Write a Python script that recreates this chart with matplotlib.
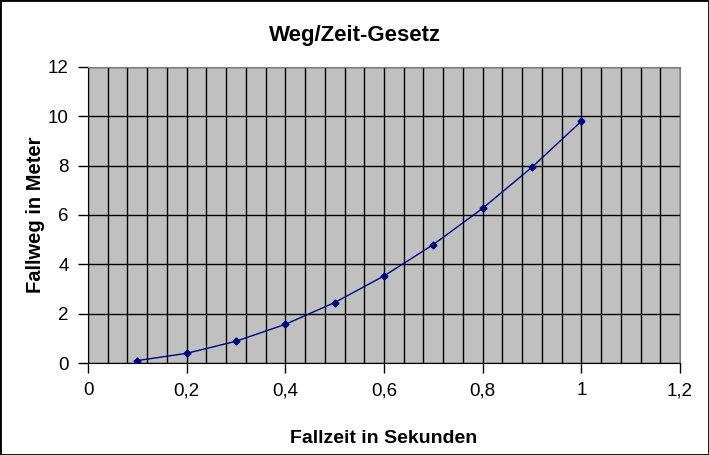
import matplotlib.pyplot as plt
from matplotlib.ticker import MultipleLocator, FuncFormatter
from matplotlib.patches import Rectangle

# Fallzeit (s) und Fallweg (m)
zeit = [0.1, 0.2, 0.3, 0.4, 0.5, 0.6, 0.7, 0.8, 0.9, 1.0]
weg = [0.098, 0.392, 0.882, 1.568, 2.45, 3.528, 4.802, 6.272, 7.938, 9.8]

plt.rcParams['font.family'] = ['Liberation Sans', 'DejaVu Sans']

fig = plt.figure(figsize=(7.09, 4.55), dpi=100)
ax = fig.add_axes([88/709, 92/455, 592/709, 296/455])
ax.set_facecolor('#c0c0c0')

ax.plot(zeit, weg, color='#000080', lw=1, marker='D', ms=3.5, zorder=3)

ax.set_xlim(0, 1.2)
ax.set_ylim(0, 12)
ax.xaxis.set_major_locator(MultipleLocator(0.2))
ax.xaxis.set_minor_locator(MultipleLocator(0.04))
ax.yaxis.set_major_locator(MultipleLocator(2))
ax.grid(True, which='minor', axis='x', color='black', lw=1)
ax.grid(True, which='major', axis='both', color='black', lw=1)
ax.set_axisbelow(True)
ax.tick_params(which='minor', length=0)
ax.tick_params(which='major', length=7, width=1, labelsize=13.5, direction='out', pad=7)

fmt = FuncFormatter(lambda v, p: ('%g' % round(v, 2)).replace('.', ','))
ax.xaxis.set_major_formatter(fmt)
ax.yaxis.set_major_formatter(fmt)

for s in ['top', 'right']:
    ax.spines[s].set_color('#808080')
for s in ['left', 'bottom']:
    ax.spines[s].set_color('black')

ax.set_xlabel('Fallzeit in Sekunden', fontsize=14, fontweight='bold', labelpad=22)
ax.set_ylabel('Fallweg in Meter', fontsize=14.5, fontweight='bold', labelpad=2)
fig.text(0.5, 1 - 36/455, 'Weg/Zeit-Gesetz', ha='center', va='center', fontsize=16, fontweight='bold')

fig.patches.append(Rectangle((0, 0), 1, 1, transform=fig.transFigure, fill=False,
                             edgecolor='black', lw=2))

fig.savefig('out.png', dpi=100)
